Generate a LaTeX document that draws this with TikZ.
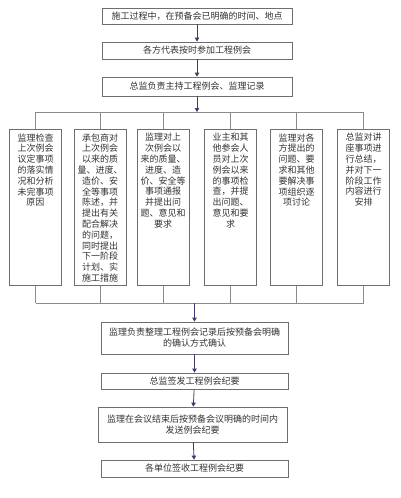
\documentclass[tikz,border=0pt]{standalone}
\usepackage{fontspec}
\setmainfont{Noto Sans CJK SC}
\usetikzlibrary{arrows.meta}
\definecolor{boxline}{HTML}{6E6E6E}
\definecolor{conn}{HTML}{8A8A8A}
\definecolor{arrowc}{HTML}{3C3C6E}
\definecolor{txt}{HTML}{333333}
\newcommand{\coltxt}[1]{\parbox[t][148pt][t]{50pt}{\centering\fontsize{9}{10.8}\selectfont #1}}
\tikzset{
  wide/.style={draw=boxline, line width=0.8pt, rectangle, inner sep=1pt, text=txt, font=\fontsize{9}{11}\selectfont, align=center},
  colbox/.style={draw=boxline, line width=0.8pt, rectangle, inner sep=0pt, text=txt, minimum width=52pt, minimum height=156pt, anchor=north},
  flow/.style={draw=arrowc, line width=0.8pt, -{Triangle[length=4pt,width=4.5pt]}},
  link/.style={draw=conn, line width=0.8pt},
}
\begin{document}
\begin{tikzpicture}[x=1pt,y=-1pt]
\useasboundingbox (0,0) rectangle (400,498);
\fill[white] (0,0) rectangle (400,498);

\node[wide, minimum width=190pt, minimum height=16pt] (b1) at (197,16) {施工过程中，在预备会已明确的时间、地点};
\node[wide, minimum width=190pt, minimum height=17pt] (b2) at (197,50.5) {各方代表按时参加工程例会};
\node[wide, minimum width=190pt, minimum height=19pt] (b3) at (197,86.5) {总监负责主持工程例会、监理记录};

\coordinate (bartop) at (197,112);
\coordinate (barL) at (35.5,112);
\coordinate (barR) at (363.5,112);

\node[colbox] (c1) at (35.5,129) {\raisebox{-6pt}{\coltxt{监理检查\\上次例会\\议定事项\\的落实情\\况和分析\\未完事项\\原因}}};
\node[colbox] (c2) at (100,129) {\raisebox{-4pt}{\coltxt{承包商对\\上次例会\\以来的质\\量、进度、\\造价、安\\全等事项\\陈述，并\\提出有关\\配合解决\\的问题，\\同时提出\\下一阶段\\计划、实\\施工措施}}};
\node[colbox] (c3) at (163,129) {\raisebox{-6pt}{\coltxt{监理对上\\次例会以\\来的质量、\\进度、造\\价、安全等\\事项通报\\并提出问\\题、意见和\\要求}}};
\node[colbox] (c4) at (230.5,129) {\raisebox{-4pt}{\coltxt{业主和其\\他参会人\\员对上次\\例会以来\\的事项检\\查，并提\\出问题、\\意见和要\\求}}};
\node[colbox] (c5) at (296.5,129) {\raisebox{-4pt}{\coltxt{监理对各\\方提出的\\问题、要\\求和其他\\要解决事\\项组织逐\\项讨论}}};
\node[colbox] (c6) at (363.5,129) {\raisebox{-4pt}{\coltxt{总监对讲\\座事项进\\行总结，\\并对下一\\阶段工作\\内容进行\\安排}}};

\coordinate (botL) at (35.5,303);
\coordinate (botR) at (363.5,303);
\coordinate (botmid) at (194.5,303);

\node[wide, minimum width=187pt, minimum height=32pt] (b7) at (194.5,338) {监理负责整理工程例会记录后按预备会明确\\的确认方式确认};
\node[wide, minimum width=187pt, minimum height=16pt] (b8) at (194.5,381) {总监签发工程例会纪要};
\node[wide, minimum width=189pt, minimum height=35pt] (b9) at (192.5,424.5) {监理在会议结束后按预备会议明确的时间内\\发送例会纪要};
\node[wide, minimum width=187pt, minimum height=17pt] (b10) at (194.5,468.5) {各单位签收工程例会纪要};

\draw[flow] (b1) -- (b2);
\draw[flow] (b2) -- (b3);
\draw[flow] (b3) -- (bartop);
\draw[link] (barL) -- (barR);
\foreach \c in {c1,c2,c3,c4,c5,c6} {
  \draw[link] (\c.north) -- (\c.north |- bartop);
  \draw[link] (\c.south) -- (\c.south |- botmid);
}
\draw[link] (botL) -- (botR);
\draw[flow] (botmid) -- (b7);
\draw[flow] (b7) -- (b8);
\draw[flow] (b8) -- (b9);
\draw[flow] (b9) -- (b10);
\end{tikzpicture}
\end{document}
